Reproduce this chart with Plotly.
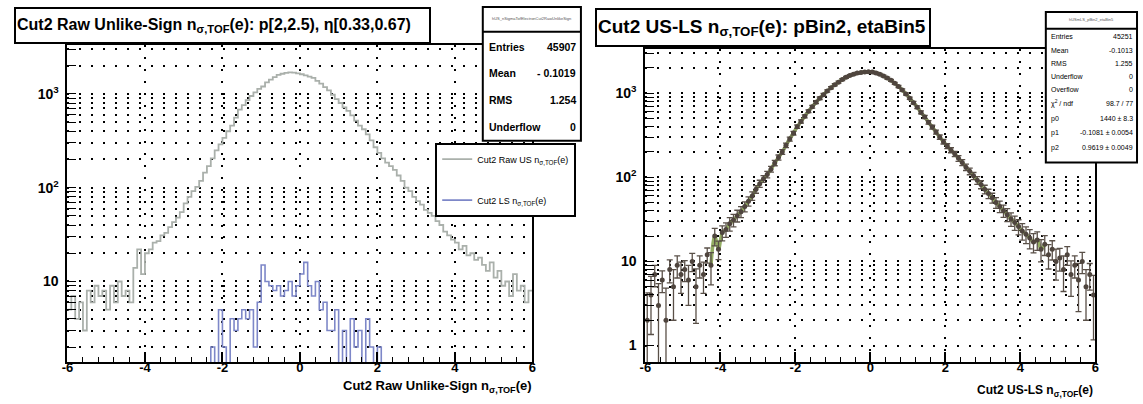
import numpy as np
import plotly.graph_objects as go

# ---------------- data ----------------
X_MIN, X_MAX, N_BINS = -6.0, 6.0, 120

# left panel: raw unlike-sign (grey) histogram, 0.1 wide bins from -6 to 6
us_raw_counts = [
    5, 7, 4, 6, 3, 8, 6, 9, 7, 8,
    5, 9, 6, 10, 7, 8, 6, 14, 22, 12,
    20, 22, 26, 27, 31, 33, 38, 43, 48, 55,
    68, 80, 92, 102, 118, 145, 170, 205, 250, 290,
    340, 400, 460, 560, 680, 760, 860, 950, 1040, 1130,
    1200, 1330, 1420, 1510, 1600, 1640, 1680, 1700, 1690, 1660,
    1620, 1580, 1530, 1480, 1380, 1290, 1180, 1090, 980, 880,
    800, 720, 660, 590, 520, 460, 420, 370, 320, 270,
    235, 205, 185, 170, 155, 135, 118, 100, 92, 80,
    72, 66, 58, 54, 50, 44, 40, 34, 31, 28,
    26, 22, 24, 19, 20, 17, 18, 15, 13, 16,
    11, 13, 9, 10, 7, 12, 8, 9, 6, 8,
]

# left panel: like-sign (blue) histogram
ls_counts = [
    0, 0, 0, 0, 0, 0, 0, 0, 0, 0,
    0, 0, 0, 0, 0, 0, 0, 0, 0, 0,
    0, 0, 0, 0, 0, 0, 0, 0, 0, 0,
    0, 0, 0, 0, 0, 0, 1, 2, 1, 5,
    2, 0, 4, 3, 4, 5, 4, 5, 2, 6,
    15, 10, 9, 8, 9, 7, 8, 10, 7, 9,
    12, 16, 9, 7, 10, 5, 6, 3, 3, 5,
    0, 3, 1, 4, 2, 3, 0, 4, 2, 0,
    2, 0, 0, 0, 0, 0, 0, 0, 0, 0,
    0, 0, 0, 0, 0, 0, 0, 0, 0, 0,
    0, 0, 0, 0, 0, 0, 0, 0, 0, 0,
    0, 0, 0, 0, 0, 0, 0, 0, 0, 0,
]

# right panel: US - LS points
us_minus_ls_counts = [
    2, 4, 7, 3, 6, 2, 8, 5, 9, 7,
    8, 6, 10, 5, 9, 7, 12, 9, 20, 14,
    22, 24, 28, 31, 35, 39, 45, 52, 60, 72,
    84, 96, 108, 125, 148, 172, 200, 240, 285, 335,
    400, 460, 530, 610, 690, 780, 870, 960, 1060, 1160,
    1260, 1350, 1450, 1540, 1620, 1680, 1730, 1760, 1780, 1790,
    1780, 1740, 1680, 1600, 1510, 1420, 1310, 1200, 1090, 980,
    870, 770, 680, 590, 520, 450, 395, 345, 300, 265,
    235, 210, 190, 168, 150, 132, 118, 104, 92, 82,
    72, 64, 57, 50, 45, 40, 36, 32, 29, 26,
    23, 21, 19, 17, 18, 14, 16, 12, 14, 10,
    11, 8, 12, 7, 9, 6, 10, 5, 7, 4,
]

xtick_vals = [-6, -4, -2, 0, 2, 4, 6]
xtick_text = ["-6", "-4", "-2", "0", "2", "4", "6"]
ytick_decades = [1, 10, 100, 1000]
ytick_decade_text = ["1", "10", "10<sup>2</sup>", "10<sup>3</sup>"]

left_title = "Cut2 Raw Unlike-Sign n<sub>σ,TOF</sub>(e): p[2,2.5), η[0.33,0.67)"
right_title = "Cut2 US-LS n<sub>σ,TOF</sub>(e): pBin2, etaBin5"
left_xtitle = "Cut2 Raw Unlike-Sign n<sub>σ,TOF</sub>(e)"
right_xtitle = "Cut2 US-LS n<sub>σ,TOF</sub>(e)"
legend_names = ["Cut2 Raw US n<sub>σ,TOF</sub>(e)", "Cut2 LS n<sub>σ,TOF</sub>(e)"]

left_stats_name = "hUS_nSigmaTofElectronCut2RawUnlikeSign"
left_stats_labels = ["Entries", "Mean", "RMS", "Underflow"]
left_stats_values = ["45907", "- 0.1019", "1.254", "0"]

right_stats_labels = ["Entries", "Mean", "RMS", "Underflow", "Overflow",
                      "χ<sup>2</sup> / ndf", "p0", "p1", "p2"]
right_stats_values = ["45251", "-0.1013", "1.255", "0", "0", "98.7 / 77",
                      "1440 ± 8.3", "-0.1081 ± 0.0054", "0.9619 ± 0.0049"]

# ---------------- geometry helpers ----------------
W, H = 1143, 404
FONT = "Liberation Sans, Arial, Helvetica, sans-serif"


def px(x):
    return x / W


def py(y):
    return 1 - y / H


edges = np.linspace(X_MIN, X_MAX, N_BINS + 1)
centers = 0.5 * (edges[:-1] + edges[1:])

us = np.array(us_raw_counts, dtype=float)
ls = np.array(ls_counts, dtype=float)
diff = np.array(us_minus_ls_counts, dtype=float)

LEFT_YR = [0.137, 3.526]
RIGHT_YR = [-0.2, 3.53]
floor_left = 10 ** (LEFT_YR[0] - 0.3)

fig = go.Figure()

# left panel histograms (step lines)
fig.add_trace(go.Scatter(
    x=edges, y=np.append(us, us[-1]), mode="lines", line_shape="hv",
    line=dict(color="#aab0ab", width=1.8), name=legend_names[0],
    legendgroup="a", xaxis="x", yaxis="y"))
ls_plot = np.where(ls > 0, ls, floor_left)
fig.add_trace(go.Scatter(
    x=edges, y=np.append(ls_plot, ls_plot[-1]), mode="lines", line_shape="hv",
    line=dict(color="#7d87c8", width=1.6), name=legend_names[1],
    legendgroup="b", xaxis="x", yaxis="y"))

# right panel: fit-like line through the points, then points with errors
sel = (centers > -4.3) & (centers < 4.7)
fig.add_trace(go.Scatter(
    x=centers[sel], y=diff[sel], mode="lines", line_shape="spline",
    line=dict(color="#93ad63", width=3.5), showlegend=False,
    xaxis="x2", yaxis="y2"))
err = np.sqrt(us + ls)
err_minus = np.minimum(err, diff - 0.5)
fig.add_trace(go.Scatter(
    x=centers, y=diff, mode="markers",
    marker=dict(color="#4f453e", size=5, symbol="circle"),
    error_y=dict(type="data", array=err, arrayminus=err_minus,
                 color="#5a5048", thickness=1.3, width=3),
    showlegend=False, xaxis="x2", yaxis="y2"))

# ---------------- axes ----------------
minor_x = list(np.round(np.arange(X_MIN, X_MAX + 0.001, 0.4), 3))
ytick_all = [m * d for d in ytick_decades for m in range(1, 10)]
ytext_all = [("<b>" + ytick_decade_text[i] + "</b>" if m == 1 else " ")
             for i, d in enumerate(ytick_decades) for m in range(1, 10)]

GRID = dict(showgrid=True, gridcolor="black", gridwidth=2, griddash="2px,10px")


def xaxis(domain, anchor):
    return dict(domain=domain, anchor=anchor, range=[X_MIN, X_MAX],
                tickmode="array", tickvals=xtick_vals,
                ticktext=["<b>" + t + "</b>" for t in xtick_text],
                ticks="inside", ticklen=10, tickwidth=1.5, tickcolor="black",
                ticklabelstandoff=-8,
                showline=True, linecolor="black", linewidth=2, mirror=True,
                zeroline=False, tickfont=dict(family=FONT, size=13, color="black"),
                minor=dict(tickmode="array", tickvals=minor_x, ticks="inside",
                           ticklen=5, tickwidth=1.2, tickcolor="black", showgrid=False),
                **GRID)


def yaxis(domain, anchor, rng):
    return dict(domain=domain, anchor=anchor, type="log", range=rng,
                tickmode="array", tickvals=ytick_all, ticktext=ytext_all,
                ticks="inside", ticklen=9, tickwidth=1.4, tickcolor="black",
                ticklabelstandoff=4,
                showline=True, linecolor="black", linewidth=2, mirror=True,
                zeroline=False, tickfont=dict(family=FONT, size=14, color="black"),
                **GRID)


layout = dict(
    width=W, height=H, autosize=False,
    margin=dict(l=0, r=0, t=0, b=0),
    paper_bgcolor="white", plot_bgcolor="white",
    font=dict(family=FONT, color="black"),
    xaxis=xaxis([px(62), px(531)], "y"),
    yaxis=yaxis([py(362), py(41)], "x", LEFT_YR),
    xaxis2=xaxis([px(645), px(1099)], "y2"),
    yaxis2=yaxis([py(362), py(45)], "x2", RIGHT_YR),
    showlegend=True,
    legend=dict(x=px(433), y=py(140), xanchor="left", yanchor="top",
                bgcolor="white", bordercolor="black", borderwidth=2,
                font=dict(family=FONT, size=9, color="black"),
                tracegroupgap=22, itemwidth=30),
)
fig.update_layout(**layout)

shapes = []
annotations = []


def note(x, y, text, size, xanchor="center", yanchor="middle", **kw):
    d = dict(xref="paper", yref="paper", x=px(x), y=py(y), text=text,
             showarrow=False, xanchor=xanchor, yanchor=yanchor,
             font=dict(family=FONT, size=size, color=kw.pop("color", "black")))
    d.update(kw)
    annotations.append(d)


# title boxes
note(8, 3, "<b>" + left_title + "</b>", 16, xanchor="left", yanchor="top",
     width=411, height=31, align="left", bordercolor="black", borderwidth=2,
     borderpad=1, bgcolor="white")
note(594, 4, "<b>" + right_title + "</b>", 19, xanchor="left", yanchor="top",
     width=330, height=33, align="left", bordercolor="black", borderwidth=2,
     borderpad=1, bgcolor="white")

# left stats box
shapes.append(dict(type="rect", xref="paper", yref="paper", x0=px(481), x1=px(580),
                   y0=py(138), y1=py(3), line=dict(color="black", width=2),
                   fillcolor="white", layer="above"))
shapes.append(dict(type="line", xref="paper", yref="paper", x0=px(481), x1=px(580),
                   y0=py(28), y1=py(28), line=dict(color="black", width=2), layer="above"))
note(530, 15, left_stats_name, 4, color="#555")
for i, (lab, val) in enumerate(zip(left_stats_labels, left_stats_values)):
    yy = 43 + 27 * i
    note(485, yy, "<b>" + lab + "</b>", 10.5, xanchor="left")
    note(577, yy, "<b>" + val + "</b>", 10.5, xanchor="right")

# right stats box
shapes.append(dict(type="rect", xref="paper", yref="paper", x0=px(1049), x1=px(1141),
                   y0=py(160), y1=py(8), line=dict(color="black", width=2),
                   fillcolor="white", layer="above"))
shapes.append(dict(type="line", xref="paper", yref="paper", x0=px(1049), x1=px(1141),
                   y0=py(25), y1=py(25), line=dict(color="black", width=2), layer="above"))
note(1095, 16, "hUSmLS_pBin2_etaBin5", 4, color="#555")
right_rows_y = [33, 47, 60, 73, 86, 100, 116, 130, 145]
for yv, lab, val in zip(right_rows_y, right_stats_labels, right_stats_values):
    note(1052, yv, lab, 7, xanchor="left")
    note(1139, yv, val, 7, xanchor="right")

# axis titles
note(533, 386, "<b>" + left_xtitle + "</b>", 13, xanchor="right")
note(1099, 391, "<b>" + right_xtitle + "</b>", 12, xanchor="right")

fig.update_layout(shapes=shapes, annotations=annotations)

fig.write_html("out.html", config={"displayModeBar": False},
               post_script="document.body.style.margin='0';document.body.style.overflow='hidden';")
